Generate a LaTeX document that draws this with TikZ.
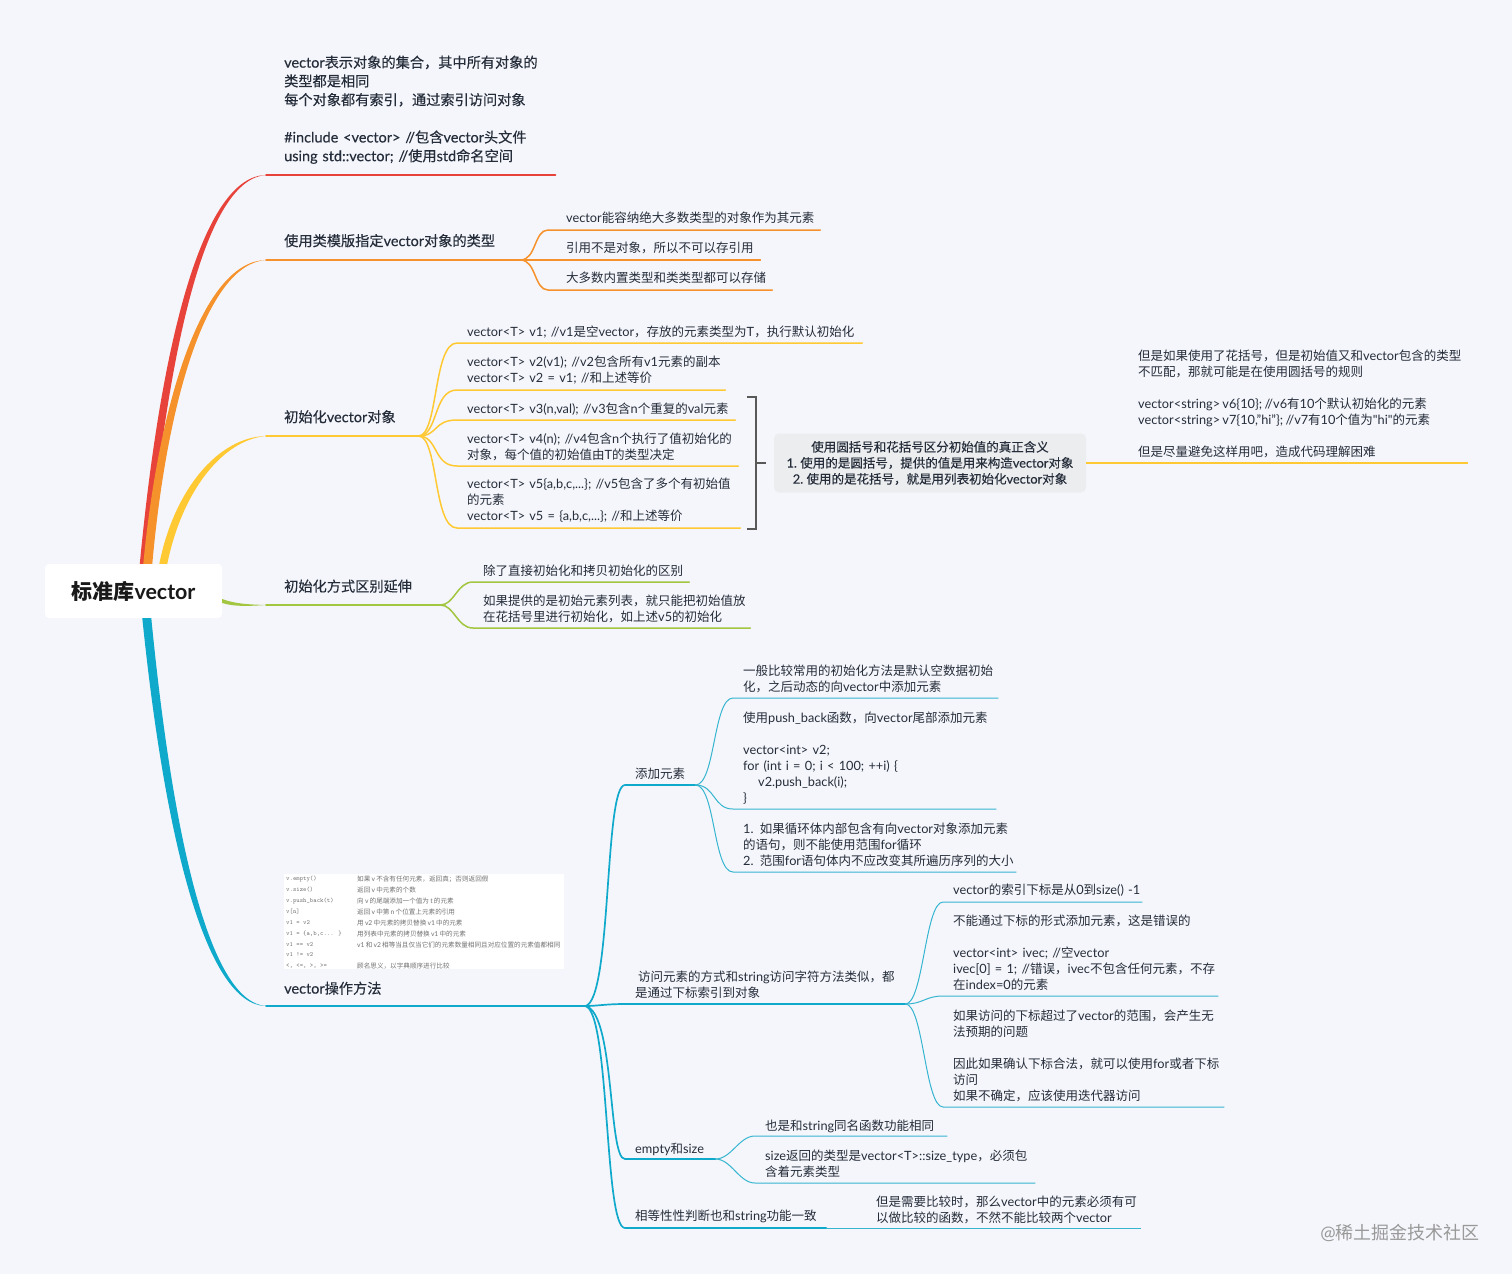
\documentclass[tikz,border=0pt]{standalone}
\usepackage{fontspec}
\usetikzlibrary{positioning}
\newfontfamily\latinfont[Scale=1.02,WordSpace=0.7]{Lato}
\newfontfamily\cjkfont{Noto Sans CJK SC}
\newfontfamily\latinmid[Scale=1.02,WordSpace=0.7,FakeBold=0.25]{Lato}
\newfontfamily\cjkmid[FakeBold=0.25]{Noto Sans CJK SC}
\newcommand\midweight{\let\latinfont\latinmid\let\cjkfont\cjkmid\latinfont}
\setmainfont[Scale=1.02,WordSpace=0.7]{Lato}
\XeTeXinterchartokenstate=1
\newXeTeXintercharclass\cjkclass
\count255="3000
\loop\ifnum\count255<"3040 \XeTeXcharclass\count255=\cjkclass \advance\count255 by 1 \repeat
\count255="4E00
\loop\ifnum\count255<"A000 \XeTeXcharclass\count255=\cjkclass \advance\count255 by 1 \repeat
\count255="FF00
\loop\ifnum\count255<"FF20 \XeTeXcharclass\count255=\cjkclass \advance\count255 by 1 \repeat
\XeTeXinterchartoks 0 \cjkclass={\cjkfont}
\XeTeXinterchartoks 4095 \cjkclass={\cjkfont}
\XeTeXinterchartoks \cjkclass 0={\latinfont}
\XeTeXinterchartoks \cjkclass 4095={\latinfont}
\definecolor{paper}{HTML}{F5F6FB}
\definecolor{ink}{HTML}{252D3A}
\definecolor{redline}{HTML}{E8433A}
\definecolor{orangeline}{HTML}{F6922B}
\definecolor{yellowline}{HTML}{FFC933}
\definecolor{greenline}{HTML}{A2C63F}
\definecolor{blueline}{HTML}{0FA9CB}
\definecolor{tealline}{HTML}{35B5CF}
\definecolor{boxgray}{HTML}{ECEDEF}
\tikzset{
  topic/.style={anchor=south west,align=left,inner ysep=11pt,inner xsep=18pt,text=ink,
    font=\fontsize{14.2}{18.7}\selectfont\midweight},
  leaf/.style={anchor=south west,align=left,inner ysep=4.6pt,inner xsep=10pt,text=ink,
    font=\fontsize{12.5}{16}\selectfont},
  limb/.style={line width=1.7pt,line cap=round},
  twig/.style={line width=1.5pt,line cap=round},
  thintwig/.style={line width=1pt,tealline},
  midlimb/.style={line width=1.7pt,blueline,line cap=round},
}
\begin{document}
\begin{tikzpicture}[x=1pt,y=-1pt]
\fill[paper] (0,0) rectangle (1512,1274);
\useasboundingbox (0,0) rectangle (1512,1274);

\node[fill=white,rounded corners=4pt,minimum width=177pt,minimum height=54pt,inner sep=0pt,
  font=\fontsize{21}{24}\selectfont\bfseries,text=black!90] (root) at (133.5,591) {标准库vector};

% first level
\node[topic,text width=253pt] (intro) at (266,175) {\mbox{vector表示对象的集合，其中所有对象的}\\类型都是相同\\每个对象都有索引，通过索引访问对象\\[18.7pt]\#include <vector> //包含vector头文件\\using std::vector; //使用std命名空间};
\node[topic,inner ysep=12.5pt,text width=218pt] (tmpl) at (266,260) {\mbox{使用类模版指定vector对象的类型}};
\node[topic,inner ysep=12.5pt,text width=116pt] (init) at (266,436) {\mbox{初始化vector对象}};
\node[topic,inner ysep=12pt,text width=138pt] (ext) at (266,605) {\mbox{初始化方式区别延伸}};
\node[topic,text width=283pt] (ops) at (266,1006) {vector操作方法};

% tapered branches
\fill[redline] ([xshift=95pt]root.north west) .. controls (161,340) and (203,176) .. (intro.south west)
  .. controls (207,179) and (169,340) .. ([xshift=103.5pt]root.north west) -- cycle;
\fill[orangeline] ([xshift=98.5pt]root.north west) .. controls (159,400) and (203,261) .. (tmpl.south west)
  .. controls (207,264) and (167,400) .. ([xshift=107.5pt]root.north west) -- cycle;
\fill[yellowline] ([xshift=114.5pt]root.north west) .. controls (174,490) and (218,437) .. (init.south west)
  .. controls (222,440) and (182,492) .. ([xshift=122.5pt]root.north west) -- cycle;
\fill[greenline] ([yshift=-8pt]root.east) .. controls (235,604) and (250,604.5) .. (ext.south west)
  .. controls (250,606) and (235,607) .. ([yshift=-12pt]root.east) -- cycle;
\fill[blueline] ([xshift=97.5pt]root.south west) .. controls (165,840) and (206,1005) .. (ops.south west)
  .. controls (210,1002) and (173,840) .. ([xshift=106.5pt]root.south west) -- cycle;
\draw[limb,redline] (intro.south west) -- (intro.south east);
\draw[limb,orangeline] (tmpl.south west) -- (tmpl.south east);
\draw[limb,yellowline] (init.south west) -- (init.south east);
\draw[limb,greenline] (ext.south west) -- (ext.south east);
\draw[limb,blueline] (ops.south west) -- (ops.south east);

% template children
\node[leaf,inner xsep=18pt,inner ysep=6.6pt,text width=236pt] (t1) at (548,230) {\mbox{vector能容纳绝大多数类型的对象作为其元素}};
\node[leaf,inner xsep=18pt,inner ysep=5.6pt,text width=176pt] (t2) at (548,260) {\mbox{引用不是对象，所以不可以存引用}};
\node[leaf,inner xsep=18pt,inner ysep=6.6pt,text width=188pt] (t3) at (548,290) {\mbox{大多数内置类型和类类型都可以存储}};
\foreach \kid in {t1,t2,t3}
  \draw[twig,orangeline] (tmpl.south east) .. controls +(16,0) and ([xshift=-14pt]\kid.south west) .. (\kid.south west) -- (\kid.south east);

% init children
\node[leaf,text width=385pt] (i1) at (457,343) {\mbox{vector<T> v1; //v1是空vector，存放的元素类型为T，执行默认初始化}};
\node[leaf,inner ysep=5.6pt,text width=248pt] (i2) at (457,390) {\mbox{vector<T> v2(v1); //v2包含所有v1元素的副本}\\vector<T> v2 = v1; //和上述等价};
\node[leaf,text width=258pt] (i3) at (457,420) {\mbox{vector<T> v3(n,val); //v3包含n个重复的val元素}};
\node[leaf,text width=261pt] (i4) at (457,466) {\mbox{vector<T> v4(n); //v4包含n个执行了值初始化的}\\对象，每个值的初始值由T的类型决定};
\node[leaf,inner ysep=5.6pt,text width=263pt] (i5) at (457,528) {\mbox{vector<T> v5\{a,b,c,...\}; //v5包含了多个有初始值}\\的元素\\vector<T> v5 = \{a,b,c,...\}; //和上述等价};
\foreach \kid in {i1,i2,i3,i4,i5}
  \draw[twig,yellowline] (init.south east) .. controls +(20,0) and ([xshift=-24pt]\kid.south west) .. (\kid.south west) -- (\kid.south east);

% summary bracket
\coordinate (brtop) at (747,397);
\coordinate (brbot) at (747,529);
\coordinate (sumend) at (1468,463);
\node[fill=boxgray,rounded corners=5pt,minimum width=312pt,minimum height=59pt,inner sep=0pt,align=center,text=ink,
  font=\fontsize{12.5}{16}\selectfont\midweight] (sum) at (930,463) {使用圆括号和花括号区分初始值的真正含义\\1. 使用的是圆括号，提供的值是用来构造vector对象\\2. 使用的是花括号，就是用列表初始化vector对象};
\draw[draw=yellowline,line width=1.2pt] (sum.east) -- (sumend);
\draw[line width=1.3pt,black!65] (brtop) -- ++(9,0) |- (brbot);
\draw[line width=1.3pt,black!65] ([xshift=-8pt]sum.west) -- ++(-10,0);
\node[anchor=south west,align=left,inner sep=0pt,text=ink,font=\fontsize{12.5}{16}\selectfont] (note) at (1138,458) {但是如果使用了花括号，但是初始值又和vector包含的类型\\不匹配，那就可能是在使用圆括号的规则\\[16pt]vector<string> v6\{10\}; //v6有10个默认初始化的元素\\vector<string> v7\{10,"hi"\}; //v7有10个值为"hi"的元素\\[16pt]但是尽量避免这样用吧，造成代码理解困难};

% extension children
\node[leaf,inner ysep=5.6pt,text width=196pt] (e1) at (473,582) {\mbox{除了直接初始化和拷贝初始化的区别}};
\node[leaf,text width=257pt] (e2) at (473,628) {\mbox{如果提供的是初始元素列表，就只能把初始值放}\\在花括号里进行初始化，如上述v5的初始化};
\foreach \kid in {e1,e2}
  \draw[twig,greenline] (ext.south east) .. controls +(14,0) and ([xshift=-16pt]\kid.south west) .. (\kid.south west) -- (\kid.south east);

% table picture
\node[anchor=north west,fill=white,minimum width=280pt,minimum height=95pt,inner sep=0pt] (optable) at (284,874) {};
\node[anchor=north west,inner sep=0pt,text=black!55,font=\fontsize{6.4}{10.9}\selectfont,align=left] (optext) at (286,876) {%
\ttfamily v.empty()\\\ttfamily v.size()\\\ttfamily v.push\_back(t)\\\ttfamily v[n]\\\ttfamily v1 = v2\\\ttfamily v1 = \{a,b,c... \}\\\ttfamily v1 == v2\\\ttfamily v1 != v2\\\ttfamily <, <=, >, >=};
\node[anchor=north west,inner sep=0pt,text=black!55,font=\fontsize{6.6}{10.9}\selectfont,align=left] (opdesc) at (357,876) {%
如果 v 不含有任何元素，返回真；否则返回假\\返回 v 中元素的个数\\向 v 的尾端添加一个值为 t 的元素\\返回 v 中第 n 个位置上元素的引用\\用 v2 中元素的拷贝替换 v1 中的元素\\用列表中元素的拷贝替换 v1 中的元素\\v1 和 v2 相等当且仅当它们的元素数量相同且对应位置的元素值都相同\\[10.9pt]顾名思义，以字典顺序进行比较};

% operations
\node[leaf,inner ysep=5.6pt,text width=50pt] (add) at (625,785) {\mbox{添加元素}};
\node[leaf,inner ysep=5.6pt,text width=260pt] (visit) at (625,1004) {\mbox{\hspace{3pt}访问元素的方式和string访问字符方法类似，都}\\是通过下标索引到对象};
\node[leaf,inner ysep=3.6pt,text width=70pt] (size) at (625,1159) {\mbox{empty和size}};
\node[leaf,text width=181pt] (equal) at (625,1228) {\mbox{相等性性判断也和string功能一致}};
\draw[midlimb] (ops.south east) .. controls (612,1000) and (604,785) .. (add.south west) -- (add.south east);
\draw[midlimb] (ops.south east) .. controls +(12,0) and ([xshift=-20pt]visit.south west) .. (visit.south west) -- (visit.south east);
\draw[midlimb] (ops.south east) .. controls (615,1012) and (608,1160) .. (size.south west) -- (size.south east);
\draw[midlimb] (ops.south east) .. controls (610,1012) and (604,1228) .. (equal.south west) -- (equal.south east);

\node[leaf,text width=245pt] (a1) at (733,698) {\mbox{一般比较常用的初始化方法是默认空数据初始}\\化，之后动态的向vector中添加元素};
\node[leaf,text width=243pt] (a2) at (733,809) {\mbox{使用push\_back函数，向vector尾部添加元素}\\[16pt]vector<int> v2;\\for (int i = 0; i < 100; ++i) \{\\\hspace*{15pt}v2.push\_back(i);\\\}};
\node[leaf,inner ysep=5.6pt,text width=263pt] (a3) at (733,872) {\mbox{1. 如果循环体内部包含有向vector对象添加元素}\\的语句，则不能使用范围for循环\\\mbox{2. 范围for语句体内不应改变其所遍历序列的大小}};
\foreach \kid in {a1,a2,a3}
  \draw[thintwig] (add.south east) .. controls +(20,0) and ([xshift=-20pt]\kid.south west) .. (\kid.south west) -- (\kid.south east);

\node[leaf,inner ysep=5.6pt,text width=179pt] (b1) at (943,902) {\mbox{vector的索引下标是从0到size() -1}};
\node[leaf,inner ysep=5.6pt,text width=255pt] (b2) at (943,996) {不能通过下标的形式添加元素，这是错误的\\[16pt]vector<int> ivec; //空vector\\\mbox{ivec[0] = 1; //错误，ivec不包含任何元素，不存}\\在index=0的元素};
\node[leaf,text width=261pt] (b3) at (943,1107) {\mbox{如果访问的下标超过了vector的范围，会产生无}\\法预期的问题\\[16pt]\mbox{因此如果确认下标合法，就可以使用for或者下标}\\访问\\如果不确定，应该使用迭代器访问};
\foreach \kid in {b1,b2,b3}
  \draw[thintwig] (visit.south east) .. controls +(18,0) and ([xshift=-18pt]\kid.south west) .. (\kid.south west) -- (\kid.south east);

\node[leaf,inner ysep=3pt,text width=172pt] (c1) at (755,1136) {\mbox{也是和string同名函数功能相同}};
\node[leaf,inner ysep=5.6pt,text width=260pt] (c2) at (755,1183) {\mbox{size返回的类型是vector<T>::size\_type，必须包}\\含着元素类型};
\foreach \kid in {c1,c2}
  \draw[thintwig] (size.south east) .. controls +(16,0) and ([xshift=-16pt]\kid.south west) .. (\kid.south west) -- (\kid.south east);

\node[leaf,inner ysep=3.6pt,text width=255pt] (d1) at (866,1228) {\mbox{但是需要比较时，那么vector中的元素必须有可}\\以做比较的函数，不然不能比较两个vector};
\draw[thintwig] (equal.south east) -- (d1.south west) -- (d1.south east);

\node[anchor=east,inner sep=0pt,text=black!40,font=\fontsize{18}{20}\selectfont] (mark) at (1480,1233) {@稀土掘金技术社区};
\end{tikzpicture}
\end{document}
